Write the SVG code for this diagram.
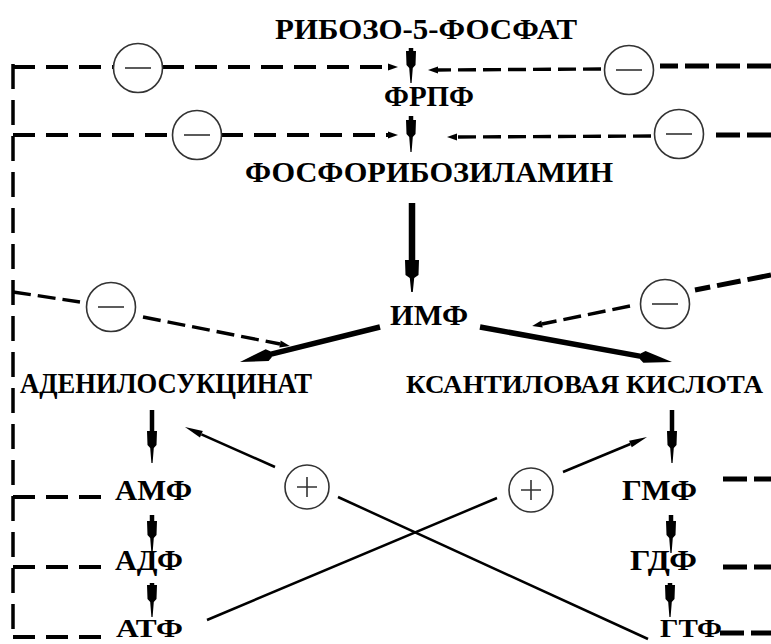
<svg xmlns="http://www.w3.org/2000/svg" width="771" height="644" viewBox="0 0 771 644">
<style>
.t{font-family:"Liberation Serif","Times New Roman",serif;font-weight:bold;font-size:29px;fill:#000}
.sig{fill:#fff;stroke:#333;stroke-width:1.6}
.sg{stroke:#333;stroke-width:1.6;fill:none}
.v{stroke:#000;stroke-width:4.5;fill:none;marker-end:url(#vh)}
.vb{stroke:#000;stroke-width:6.5;fill:none;marker-end:url(#vhb)}
.d{stroke:#000;stroke-width:5.5;fill:none;marker-end:url(#dh)}
.bus{stroke:#000;stroke-width:3.5;fill:none;stroke-dasharray:25 11}
.fb{stroke:#000;stroke-width:4;fill:none;stroke-dasharray:22 11}
.rt{stroke:#000;stroke-width:5;fill:none;stroke-dasharray:24 7}
.dd{stroke:#000;stroke-width:3.4;fill:none;stroke-dasharray:18 7}
.act{stroke:#000;stroke-width:2.5;fill:none}
</style>
<defs>
<marker id="vh" markerUnits="userSpaceOnUse" orient="auto" refX="0" refY="0" markerWidth="40" markerHeight="20" overflow="visible"><path d="M0,-5 L14,-4.5 L17,-1.8 L32,-0.6 L32,0.6 L17,1.8 L14,4.5 L0,5 Z" fill="#000"/></marker>
<marker id="vhb" markerUnits="userSpaceOnUse" orient="auto" refX="0" refY="0" markerWidth="40" markerHeight="20" overflow="visible"><path d="M0,-7 L15,-6.5 L18,-2.2 L32,-0.8 L32,0.8 L18,2.2 L15,6.5 L0,7 Z" fill="#000"/></marker>
<marker id="dh" markerUnits="userSpaceOnUse" orient="auto" refX="0" refY="0" markerWidth="40" markerHeight="20" overflow="visible"><path d="M-2,-3 L2,-6 L30,0 L2,6 L-2,3 Z" fill="#000"/></marker>
<marker id="sh" markerUnits="userSpaceOnUse" orient="auto" refX="0" refY="0" markerWidth="20" markerHeight="20" overflow="visible"><path d="M0,-3.5 L10,0 L0,3.5 Z" fill="#000"/></marker>
<marker id="th" markerUnits="userSpaceOnUse" orient="auto" refX="0" refY="0" markerWidth="30" markerHeight="20" overflow="visible"><path d="M0,-3.5 L18,0 L0,3.5 Z" fill="#000"/></marker>
</defs>

<g id="connectors">
<!-- main pathway arrows -->
<path class="v" d="M411,48 V51"/>
<path class="v" d="M411,116 V120"/>
<path class="vb" d="M412,203 V260"/>
<path class="d" d="M380,327 L269.1,354.7"/>
<path class="d" d="M480,327 L642.5,356.6"/>
<path class="v" d="M152,410 V431"/>
<path class="v" d="M152,515 V521"/>
<path class="v" d="M152,583 V585"/>
<path class="v" d="M672,410 V431"/>
<path class="v" d="M671,515 V521"/>
<path class="v" d="M670,583 V585"/>
<!-- left feedback bus -->
<path class="bus" d="M13,64 V637"/>
<path class="fb" d="M13,67 H113"/>
<path class="fb" d="M162,67 H388" marker-end="url(#sh)"/>
<path class="fb" d="M13,135 H172"/>
<path class="fb" d="M221,135 H388" marker-end="url(#sh)"/>
<path class="dd" d="M13,292 L80,302"/>
<path class="dd" d="M143,317 L280,344" marker-end="url(#sh)"/>
<path class="fb" d="M13,497 H101"/>
<path class="fb" d="M13,567 H101"/>
<path class="fb" d="M13,637 H101"/>
<!-- right feedback -->
<path class="rt" d="M771,66 H660"/>
<path class="dd" d="M601,69 L438,70" marker-end="url(#sh)"/>
<path class="rt" d="M771,135 H709"/>
<path class="dd" d="M651,136 L457,137" marker-end="url(#sh)"/>
<path class="rt" d="M771,275 L695,290"/>
<path class="dd" d="M630,306 L542,324" marker-end="url(#sh)"/>
<path class="rt" d="M723,479 H771"/>
<path class="rt" d="M723,567 H771"/>
<path class="rt" d="M720,633 H771"/>
<!-- activation lines -->
<path class="act" d="M207,620 L497,498"/>
<path class="act" d="M563,472 L630.4,444" marker-end="url(#th)"/>
<path class="act" d="M648,639 L338,497"/>
<path class="act" d="M275,467 L201.4,434.3" marker-end="url(#th)"/>
</g>

<g id="n-ribose5p"><text class="t" x="275" y="39" textLength="302" lengthAdjust="spacingAndGlyphs">РИБОЗО-5-ФОСФАТ</text></g>
<g id="n-frpf"><text class="t" x="384" y="106" textLength="90" lengthAdjust="spacingAndGlyphs">ФРПФ</text></g>
<g id="n-pra"><text class="t" x="245" y="182" textLength="368" lengthAdjust="spacingAndGlyphs">ФОСФОРИБОЗИЛАМИН</text></g>
<g id="n-imp"><text class="t" x="390" y="325" textLength="78" lengthAdjust="spacingAndGlyphs">ИМФ</text></g>
<g id="n-adenylosuccinate"><text class="t" x="20" y="393" textLength="292" lengthAdjust="spacingAndGlyphs">АДЕНИЛОСУКЦИНАТ</text></g>
<g id="n-xanthylic"><text class="t" x="406" y="393" textLength="357" lengthAdjust="spacingAndGlyphs" style="font-size:26px">КСАНТИЛОВАЯ КИСЛОТА</text></g>
<g id="n-amp"><text class="t" x="115" y="500" textLength="77" lengthAdjust="spacingAndGlyphs">АМФ</text></g>
<g id="n-adp"><text class="t" x="115" y="570" textLength="68" lengthAdjust="spacingAndGlyphs">АДФ</text></g>
<g id="n-atp"><text class="t" x="116" y="637" textLength="67" lengthAdjust="spacingAndGlyphs" style="font-size:26px">АТФ</text></g>
<g id="n-gmp"><text class="t" x="622" y="500" textLength="75" lengthAdjust="spacingAndGlyphs">ГМФ</text></g>
<g id="n-gdp"><text class="t" x="630" y="570" textLength="67" lengthAdjust="spacingAndGlyphs">ГДФ</text></g>
<g id="n-gtp"><text class="t" x="660" y="637" textLength="62" lengthAdjust="spacingAndGlyphs" style="font-size:26px">ГТФ</text></g>

<g id="inh1"><circle class="sig" cx="138" cy="68" r="24.5"/><path class="sg" d="M125,68 H151"/></g>
<g id="inh2"><circle class="sig" cx="197" cy="135" r="24.5"/><path class="sg" d="M184,135 H210"/></g>
<g id="inh3"><circle class="sig" cx="111" cy="307" r="24.5"/><path class="sg" d="M98,307 H124"/></g>
<g id="inh4"><circle class="sig" cx="629" cy="70" r="24.5"/><path class="sg" d="M616,70 H642"/></g>
<g id="inh5"><circle class="sig" cx="679" cy="134" r="24.5"/><path class="sg" d="M666,134 H692"/></g>
<g id="inh6"><circle class="sig" cx="665" cy="304" r="24.5"/><path class="sg" d="M652,304 H678"/></g>
<g id="act1"><circle class="sig" cx="307" cy="487" r="22"/><path class="sg" d="M297,487 H317 M307,477 V497"/></g>
<g id="act2"><circle class="sig" cx="531" cy="490" r="22"/><path class="sg" d="M521,490 H541 M531,480 V500"/></g>
</svg>
